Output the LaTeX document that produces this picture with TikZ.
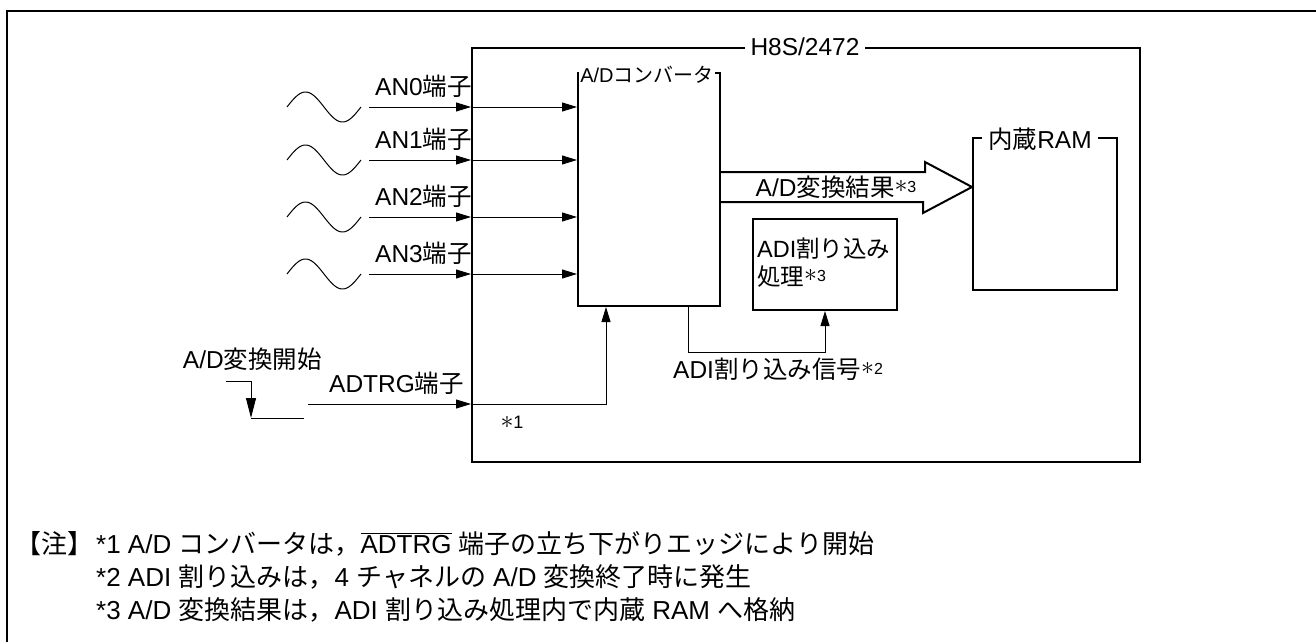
\documentclass[tikz,border=0pt]{standalone}
\usepackage{fontspec}
\usepackage{graphicx}
\setmainfont{Liberation Sans}
\newfontfamily\jpfont{Noto Sans CJK JP}
\usetikzlibrary{arrows.meta,calc}
\newcommand\jtx[1]{{\jpfont #1}}
\newcommand\bast{\scalebox{1.5}{$\ast$}}
\newcommand\sref[1]{\raisebox{4pt}{\fontsize{16}{16}\selectfont\bast#1}}
\begin{document}
\begin{tikzpicture}[x=1pt,y=-1pt,line join=miter,
  box/.style={draw,line width=2pt,inner sep=0pt,anchor=north west},
  sig/.style={line width=1pt,-{Triangle[length=15pt,width=9pt]}},
  thin/.style={line width=1pt},
  lbl/.style={font=\fontsize{24.5}{28}\selectfont,inner sep=0pt},
  note/.style={font=\fontsize{26}{30}\selectfont,inner sep=0pt,anchor=base west},
  tag/.style={fill=white,inner ysep=1pt}]
\useasboundingbox (0,0) rectangle (1316,642);
% outer frame
\draw[line width=2.5pt] (7,642) -- (7,11) -- (1318,11);
% main chip box
\node[box,minimum width=668,minimum height=414] (h8s) at (471,47) {};
\node[lbl,tag,inner xsep=6pt] (h8st) at (805,47) {H8S/2472};
% A/D converter
\node[box,minimum width=142,minimum height=233] (adc) at (577,72) {};
\node[tag,inner xsep=1pt,font=\fontsize{20}{21}\selectfont] (adct) at (647,75) {A/D\jtx{コンバータ}};
% RAM
\node[box,minimum width=144,minimum height=152] (ram) at (972,137) {};
\node[lbl,tag,inner xsep=6pt] (ramt) at (1040,139) {\jtx{内蔵}RAM};
% ADI processing
\node[box,minimum width=144,minimum height=91] (adi) at (752,218) {};
\node[lbl,align=left,anchor=west,font=\fontsize{23.5}{28}\selectfont] (adit) at (757,263) {ADI\jtx{割り込み}\\\jtx{処理}\sref{3}};
% big arrow
\coordinate (tip) at ($(ram.north west)+(0,50)$);
\draw[line width=2pt] ($(adc.north east)+(0,100)$) -- ++(204,0) -- ++(0,-10) -- (tip)
  -- ($(tip)+(-49,26)$) -- ++(0,-11) -- ($(adc.north east)+(0,130)$);
\node[lbl] (res) at (836,187) {A/D\jtx{変換結果}\sref{3}};
% analog inputs
\foreach \i/\yy in {0/107,1/160,2/217,3/274}{
  \coordinate (s\i) at (369,\yy);
  \draw[thin] plot[domain=0:1,samples=50] ({287+74*\x},{\yy-15*sin(360*\x)});
  \draw[sig] (s\i) -- (s\i -| h8s.west);
  \draw[sig] (s\i -| h8s.west) -- (s\i -| adc.west);
  \node[lbl,anchor=base west] (an\i) at (375,\yy-12) {AN\i\jtx{端子}};
}
% ADTRG
\coordinate (tr) at (308,404);
\coordinate (tup) at ($(adc.south west)+(29,0)$);
\draw[sig] (tr) -- (tr -| h8s.west);
\draw[sig] (tr -| h8s.west) -| (tup);
\node[lbl,anchor=base west] (adtrg) at (329,392) {ADTRG\jtx{端子}};
\node[inner sep=0pt,font=\fontsize{18}{18}\selectfont] (n1) at (512,422) {\bast1};
\coordinate (e1) at (226,381);
\coordinate (e2) at (251,418);
\coordinate (e3) at (304,418);
\draw[line width=1pt,-{Triangle[length=20pt,width=10pt]}] (e1) -| (e2);
\draw[thin] (e2) -- (e3);
\node[lbl,anchor=base east] (start) at (322,368) {A/D\jtx{変換開始}};
% ADI interrupt signal
\coordinate (ads) at ($(adc.south west)+(111,0)$);
\draw[sig] (ads) -- ++(0,45) -| (adi.south);
\node[lbl,anchor=base west] (adis) at (673,378) {ADI\jtx{割り込み信号}\sref{2}};
% notes
\node[note] (nh) at (15,553) {\jtx{【注】}};
\node[note] (l1) at (96,553) {*1 A/D \jtx{コンバータは，}$\overline{\mbox{ADTRG}}$ \jtx{端子の立ち下がりエッジにより開始}};
\node[note] (l2) at (96,586) {*2 ADI \jtx{割り込みは，}4 \jtx{チャネルの} A/D \jtx{変換終了時に発生}};
\node[note] (l3) at (96,619) {*3 A/D \jtx{変換結果は，}ADI \jtx{割り込み処理内で内蔵} RAM \jtx{へ格納}};
\end{tikzpicture}
\end{document}
